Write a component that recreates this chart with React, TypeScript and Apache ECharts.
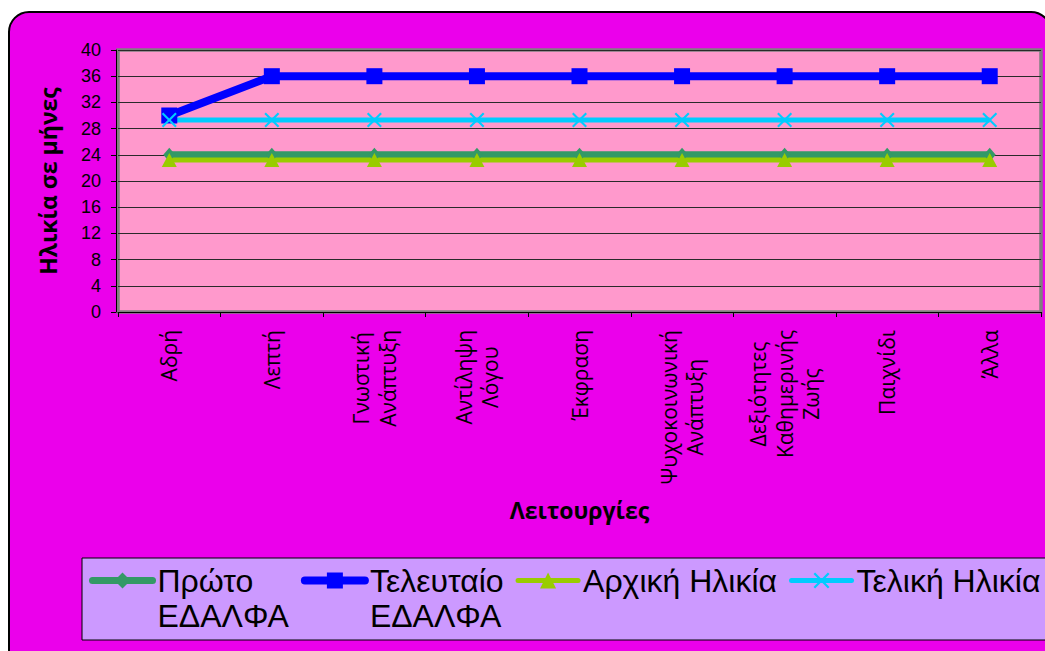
import React, { useEffect, useRef } from "react";
import * as echarts from "echarts";

// Categories (functions) along the x axis
const categories = [
  "Αδρή",
  "Λεπτή",
  "Γνωστική\nΑνάπτυξη",
  "Αντίληψη\nΛόγου",
  "Έκφραση",
  "Ψυχοκοινωνική\nΑνάπτυξη",
  "Δεξιότητες\nΚαθημερινής\nΖωής",
  "Παιχνίδι",
  "Άλλα",
];

// Age in months per series
const firstEdalfa = [24, 24, 24, 24, 24, 24, 24, 24, 24];
const lastEdalfa = [30, 36, 36, 36, 36, 36, 36, 36, 36];
const initialAge = [23.2, 23.2, 23.2, 23.2, 23.2, 23.2, 23.2, 23.2, 23.2];
const finalAge = [29.3, 29.3, 29.3, 29.3, 29.3, 29.3, 29.3, 29.3, 29.3];

const seriesNames = ["Πρώτο ΕΔΑΛΦΑ", "Τελευταίο ΕΔΑΛΦΑ", "Αρχική Ηλικία", "Τελική Ηλικία"];
const legendLabels = ["Πρώτο\nΕΔΑΛΦΑ", "Τελευταίο\nΕΔΑΛΦΑ", "Αρχική Ηλικία", "Τελική Ηλικία"];
const seriesColors = ["#339966", "#0000FF", "#99CC00", "#00CCFF"];
const lineWidths = [7, 8, 5, 5];

const yMin = 0;
const yMax = 40;
const yStep = 4;

const X_MARK = "path://M0,1L1,0L5,4L9,0L10,1L6,5L10,9L9,10L5,6L1,10L0,9L4,5Z";
const LABEL_FONT = "'Open Sans', sans-serif";

export default function App() {
  const ref = useRef<HTMLDivElement>(null);

  useEffect(() => {
    if (!ref.current) return;
    const chart = echarts.init(ref.current, undefined, { renderer: "svg" });

    const legendText = (name: string) => {
      const i = seriesNames.indexOf(name);
      const label = i >= 0 ? legendLabels[i] : name;
      // keep the symbol level with the first line of two-line entries
      return label.includes("\n") ? "\n" + label : label;
    };

    chart.setOption({
      animation: false,
      backgroundColor: "#ffffff",
      graphic: [
        {
          type: "rect",
          z: -10,
          shape: { x: 9, y: 12, width: 1042, height: 660, r: 20 },
          style: { fill: "#EB00EB", stroke: "#000000", lineWidth: 2 },
        },
        {
          type: "rect",
          z: 1,
          shape: { x: 82, y: 558, width: 980, height: 82 },
          style: { fill: "#CC99FF", stroke: "#000000", lineWidth: 1 },
        },
      ],
      grid: {
        left: 118,
        right: 4,
        top: 50,
        bottom: 339,
        show: true,
        backgroundColor: "#FF99CC",
        borderColor: "#808080",
        borderWidth: 3.5,
      },
      legend: {
        left: 89,
        top: 528,
        padding: 0,
        itemWidth: 60,
        itemHeight: 20,
        itemGap: 12,
        formatter: legendText,
        textStyle: {
          fontFamily: "Liberation Sans, Arial, sans-serif",
          fontSize: 32,
          lineHeight: 35,
          color: "#000000",
        },
        data: seriesNames.map((name, i) => ({
          name,
          lineStyle: { width: lineWidths[i], color: seriesColors[i], cap: "round" },
        })),
      },
      xAxis: {
        type: "category",
        data: categories,
        boundaryGap: true,
        offset: 2,
        name: "Λειτουργίες",
        nameLocation: "middle",
        nameGap: 184,
        nameTextStyle: {
          fontFamily: LABEL_FONT,
          fontWeight: "bold",
          fontSize: 23,
          color: "#000000",
        },
        axisLine: { lineStyle: { color: "#000000", width: 1 } },
        axisTick: { show: true, length: 5, lineStyle: { color: "#000000" } },
        axisLabel: {
          interval: 0,
          rotate: 90,
          margin: 16,
          formatter: (v: string) =>
            v
              .split("\n")
              .map((s) => `{c|${s}}`)
              .join("\n"),
          rich: {
            c: {
              align: "center",
              fontFamily: LABEL_FONT,
              fontSize: 21,
              lineHeight: 26.5,
              color: "#000000",
            },
          },
        },
        splitLine: { show: false },
      },
      yAxis: {
        type: "value",
        min: yMin,
        max: yMax,
        interval: yStep,
        offset: 2,
        name: "Ηλικία σε μήνες",
        nameLocation: "middle",
        nameGap: 57,
        nameTextStyle: {
          fontFamily: LABEL_FONT,
          fontWeight: "bold",
          fontSize: 23,
          color: "#000000",
        },
        axisLine: { show: true, lineStyle: { color: "#000000", width: 1 } },
        axisTick: { show: true, length: 5, lineStyle: { color: "#000000" } },
        axisLabel: {
          margin: 15,
          fontFamily: "Liberation Sans, Arial, sans-serif",
          fontSize: 18,
          color: "#000000",
        },
        splitLine: { show: true, lineStyle: { color: "#2a2a2a", width: 1 } },
      },
      series: [
        {
          name: seriesNames[0],
          type: "line",
          data: firstEdalfa,
          color: seriesColors[0],
          symbol: "diamond",
          symbolSize: [12, 14],
          lineStyle: { width: lineWidths[0], color: seriesColors[0] },
          itemStyle: { color: seriesColors[0] },
        },
        {
          name: seriesNames[1],
          type: "line",
          data: lastEdalfa,
          color: seriesColors[1],
          symbol: "rect",
          symbolSize: 16,
          lineStyle: { width: lineWidths[1], color: seriesColors[1] },
          itemStyle: { color: seriesColors[1] },
        },
        {
          name: seriesNames[2],
          type: "line",
          data: initialAge,
          color: seriesColors[2],
          symbol: "triangle",
          symbolSize: [15, 14],
          lineStyle: { width: lineWidths[2], color: seriesColors[2] },
          itemStyle: { color: seriesColors[2] },
        },
        {
          name: seriesNames[3],
          type: "line",
          data: finalAge,
          color: seriesColors[3],
          symbol: X_MARK,
          symbolSize: 15,
          lineStyle: { width: lineWidths[3], color: seriesColors[3] },
          itemStyle: { color: seriesColors[3] },
        },
      ],
    });

    return () => chart.dispose();
  }, []);

  return (
    <div
      ref={ref}
      style={{ position: "absolute", left: 0, top: 0, width: 1045, height: 651 }}
    />
  );
}
